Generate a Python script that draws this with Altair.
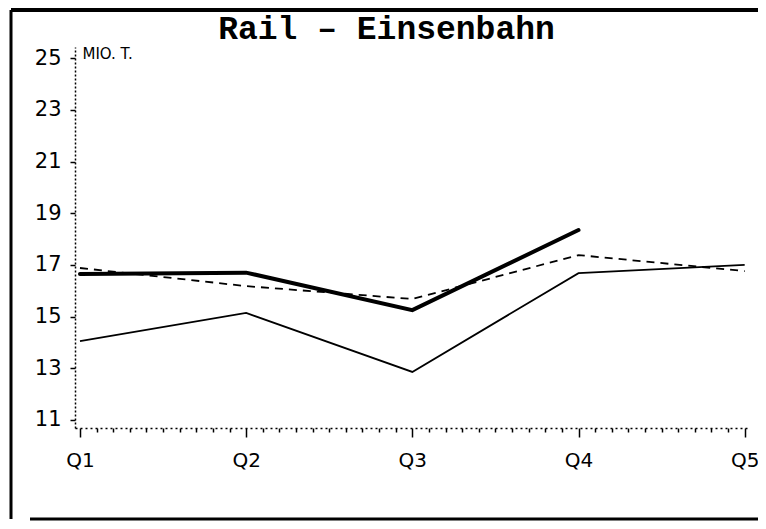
import altair as alt
import pandas as pd

quarters = ["Q1", "Q2", "Q3", "Q4", "Q5"]
series_thick = [16.65, 16.7, 15.25, 18.35, None]
series_dashed = [16.88, 16.18, 15.68, 17.38, 16.76]
series_thin = [14.05, 15.14, 12.86, 16.68, 17.0]
y_ticks = [11, 13, 15, 17, 19, 21, 23, 25]

rows = []
for name, vals in [("thick", series_thick), ("dashed", series_dashed), ("thin", series_thin)]:
    for i, v in enumerate(vals):
        if v is not None:
            rows.append({"series": name, "q": i + 1, "value": v})
df = pd.DataFrame(rows)

x_vals = [round(1 + i * 0.1, 1) for i in range(41)]
label_expr = "datum.value % 1 === 0 ? " + str(quarters) + "[datum.value - 1] : ''"

x_scale = alt.Scale(domain=[0.97, 5.02], nice=False, zero=False)
y_scale = alt.Scale(domain=[10.69, 25.43], nice=False, zero=False)

x_axis = alt.Axis(
    values=x_vals, labelExpr=label_expr, title=None, grid=False,
    domainColor="black", domainDash=[2, 3], domainWidth=1.5,
    tickColor="black", tickWidth=1.5,
    tickSize={"condition": {"test": "datum.value % 1 === 0", "value": 9}, "value": 4},
    labelFont="DejaVu Sans", labelFontSize=20, labelColor="black",
    labelPadding=13, labelOverlap=False, labelFlush=False,
)
y_axis = alt.Axis(
    values=y_ticks, title="MIO. T.", titleAngle=0, titleAlign="left",
    titleBaseline="alphabetic", titleX=7, titleY=11, titleFont="DejaVu Sans",
    titleFontSize=15, titleFontWeight="normal", titleColor="black",
    grid=False, domainColor="black", domainDash=[2, 2], domainWidth=1.5,
    tickColor="black", tickWidth=1.5, tickSize=5,
    labelFont="DejaVu Sans", labelFontSize=21, labelColor="black", labelPadding=9,
)

base = alt.Chart(df)

def line(name, width, dash=None, cap="butt"):
    kw = dict(color="black", strokeWidth=width, strokeCap=cap)
    if dash:
        kw["strokeDash"] = dash
    return base.transform_filter(alt.datum.series == name).mark_line(**kw).encode(
        x=alt.X("q:Q", scale=x_scale, axis=x_axis),
        y=alt.Y("value:Q", scale=y_scale, axis=y_axis),
    )

one = pd.DataFrame({"a": [0]})
frame_left = alt.Chart(one).mark_rule(color="black", strokeWidth=3).encode(
    x=alt.value(-64), y=alt.value(-37), y2=alt.value(472))
frame_top = alt.Chart(one).mark_rule(color="black", strokeWidth=4).encode(
    x=alt.value(-64), x2=alt.value(683), y=alt.value(-37))
frame_bottom = alt.Chart(one).mark_rule(color="black", strokeWidth=3).encode(
    x=alt.value(-45), x2=alt.value(683), y=alt.value(472))

chart = alt.layer(
    frame_left, frame_top, frame_bottom,
    line("thin", 1.8),
    line("dashed", 1.8, dash=[8, 6]),
    line("thick", 4, cap="round"),
).properties(
    width=673, height=381,
    autosize=alt.AutoSizeParams(type="none"),
    padding={"left": 67, "top": 39, "right": 10, "bottom": 93},
    title=alt.TitleParams(
        "Rail \u2013 Einsenbahn", font="Liberation Mono", fontSize=33,
        fontWeight="bold", color="black", anchor="middle", dx=-25,
        baseline="alphabetic", offset=-64,
    ),
).configure_view(strokeWidth=0)

chart.save("out.html", embed_options={"renderer": "svg", "actions": False})
